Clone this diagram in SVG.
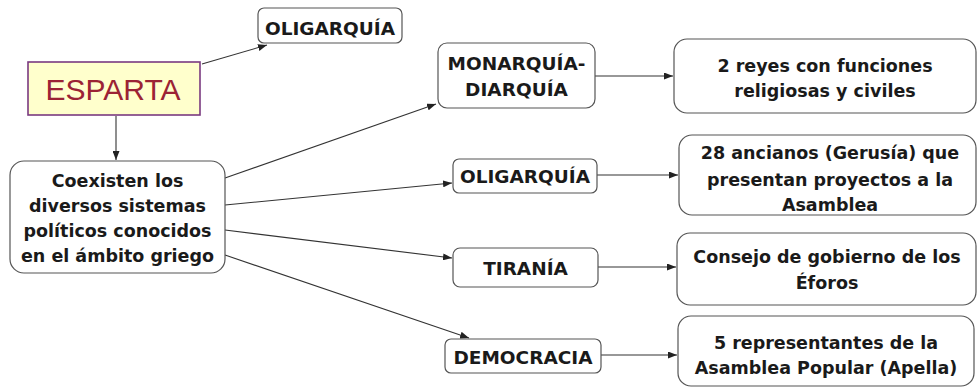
<svg xmlns="http://www.w3.org/2000/svg" width="978" height="388" viewBox="0 0 978 388">
<defs>
<marker id="ah" markerWidth="9" markerHeight="7" refX="9" refY="3.5" orient="auto" markerUnits="userSpaceOnUse">
<path d="M0,0 L9,3.5 L0,7 Z" fill="#222"/>
</marker>
<style>
.box{fill:#fff;stroke:#555;stroke-width:1.2}
.t{font-family:"DejaVu Sans","Liberation Sans",sans-serif;font-weight:bold;font-size:17.5px;fill:#1a1a1a;text-anchor:middle}
.u{font-family:"DejaVu Sans","Liberation Sans",sans-serif;font-weight:bold;font-size:18.5px;fill:#1a1a1a;text-anchor:middle}
.c{fill:none;stroke:#333;stroke-width:1.1;marker-end:url(#ah)}
</style>
</defs>
<rect width="978" height="388" fill="#fff"/>
<g id="connectors">
<path class="c" d="M202,64 L267,45"/>
<path class="c" d="M116,116 L116,160"/>
<path class="c" d="M225,178 L436,104"/>
<path class="c" d="M225,205 L452,183"/>
<path class="c" d="M225,230 L452,258"/>
<path class="c" d="M225,255 L469,338"/>
<path class="c" d="M595,76 L673,76"/>
<path class="c" d="M597,175 L678,175"/>
<path class="c" d="M598,267 L676,267"/>
<path class="c" d="M601,355 L677,355"/>
</g>
<g id="esparta">
<rect x="28" y="62" width="172" height="53" fill="#ffffcc" stroke="#7a3a80" stroke-width="1.6"/>
<text x="113" y="100" font-family="Liberation Sans, sans-serif" font-size="30" fill="#9b2335" text-anchor="middle">ESPARTA</text>
</g>
<g id="oligarquia-top">
<rect class="box" x="258" y="8" width="144" height="35" rx="6"/>
<text class="u" x="330" y="35">OLIGARQUÍA</text>
</g>
<g id="coexisten">
<rect class="box" x="10" y="161" width="215" height="112" rx="14"/>
<text class="t" x="117.5" y="187">Coexisten los</text>
<text class="t" x="117.5" y="212">diversos sistemas</text>
<text class="t" x="117.5" y="237">políticos conocidos</text>
<text class="t" x="117.5" y="262">en el ámbito griego</text>
</g>
<g id="monarquia">
<rect class="box" x="438" y="43" width="157" height="65" rx="9"/>
<text class="u" x="516.5" y="70">MONARQUÍA-</text>
<text class="u" x="516.5" y="96">DIARQUÍA</text>
</g>
<g id="reyes">
<rect class="box" x="674" y="39" width="302" height="74" rx="13"/>
<text class="t" x="825" y="72">2 reyes con funciones</text>
<text class="t" x="825" y="97">religiosas y civiles</text>
</g>
<g id="oligarquia">
<rect class="box" x="453" y="159" width="144" height="34" rx="6"/>
<text class="u" x="525" y="183">OLIGARQUÍA</text>
</g>
<g id="ancianos">
<rect class="box" x="679" y="135" width="297" height="80" rx="13"/>
<text class="t" x="830" y="159">28 ancianos (Gerusía) que</text>
<text class="t" x="830" y="186">presentan proyectos a la</text>
<text class="t" x="830" y="211">Asamblea</text>
</g>
<g id="tirania">
<rect class="box" x="453" y="248" width="145" height="39" rx="7"/>
<text class="u" x="525.5" y="275">TIRANÍA</text>
</g>
<g id="consejo">
<rect class="box" x="677" y="233" width="299" height="72" rx="13"/>
<text class="t" x="827" y="263">Consejo de gobierno de los</text>
<text class="t" x="827" y="289">Éforos</text>
</g>
<g id="democracia">
<rect class="box" x="445" y="339" width="156" height="34" rx="6"/>
<text class="u" x="523" y="364">DEMOCRACIA</text>
</g>
<g id="representantes">
<rect class="box" x="678" y="316" width="296" height="70" rx="13"/>
<text class="t" x="826" y="349">5 representantes de la</text>
<text class="t" x="826" y="374">Asamblea Popular (Apella)</text>
</g>
</svg>
